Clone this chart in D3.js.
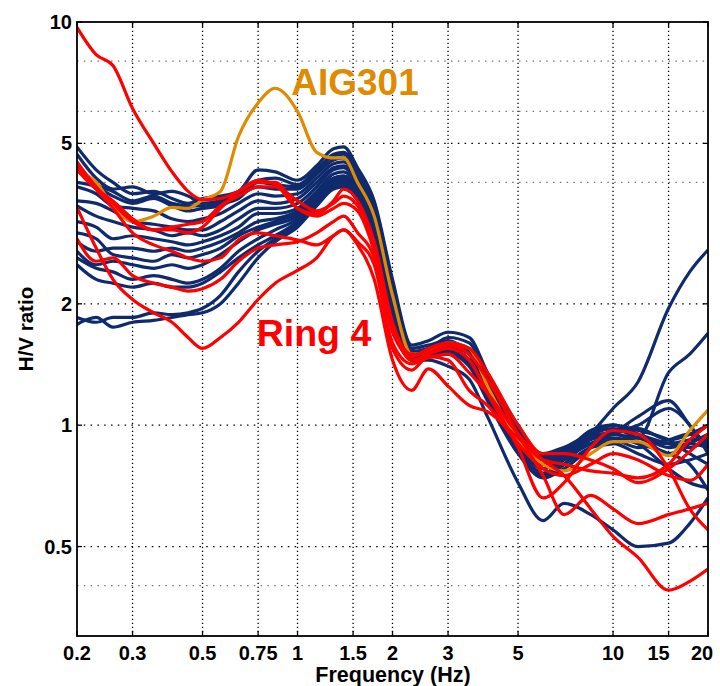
<!DOCTYPE html>
<html><head><meta charset="utf-8">
<script src="https://cdn.jsdelivr.net/npm/d3@7"></script>
<style>
html,body{margin:0;padding:0;background:#fff;}
svg{display:block;font-family:"Liberation Sans",Arial,Helvetica,sans-serif;}
</style></head>
<body><svg id="chart" width="720" height="686"></svg>
<script>
// ---- data ----
const freq = [0.2, 0.23, 0.26, 0.3, 0.35, 0.4, 0.45, 0.5, 0.57, 0.65, 0.75, 0.85, 1.0, 1.15, 1.3, 1.4, 1.55, 1.75, 2.0, 2.3, 2.6, 3.0, 3.5, 4.0, 5.0, 6.0, 7.0, 8.5, 10, 12, 15, 17.5, 20];

const navy01 = [4.9, 4.3, 4.0, 3.75, 3.8, 3.65, 3.55, 3.65, 3.7, 3.8, 4.3, 4.25, 4.05, 4.4, 4.85, 4.9, 4.35, 3.6, 2.3, 1.58, 1.62, 1.7, 1.65, 1.35, 1.0, 0.84, 0.88, 0.95, 0.98, 0.93, 0.9, 0.92, 0.93];
const navy02 = [4.7, 4.1, 3.85, 3.9, 3.75, 3.8, 3.7, 3.55, 3.6, 3.75, 4.05, 4.1, 3.95, 4.3, 4.7, 4.75, 4.3, 3.55, 2.25, 1.55, 1.58, 1.62, 1.5, 1.28, 0.95, 0.82, 0.86, 0.97, 1.0, 0.95, 0.88, 0.9, 0.88];
const navy03 = [4.3, 3.95, 3.8, 3.6, 3.7, 3.55, 3.5, 3.5, 3.55, 3.65, 4.0, 3.95, 3.9, 4.25, 4.65, 4.7, 4.3, 3.5, 2.25, 1.52, 1.55, 1.65, 1.6, 1.32, 0.97, 0.83, 0.87, 0.96, 1.0, 0.97, 0.92, 0.85, 0.8];
const navy04 = [4.0, 3.9, 3.7, 3.55, 3.65, 3.5, 3.4, 3.45, 3.5, 3.7, 3.9, 3.85, 3.85, 4.2, 4.55, 4.6, 4.2, 3.45, 2.2, 1.52, 1.55, 1.6, 1.52, 1.25, 0.92, 0.8, 0.85, 0.93, 0.96, 1.05, 1.15, 1.0, 0.88];
const navy05 = [3.9, 3.75, 3.5, 3.45, 3.4, 3.25, 3.2, 3.25, 3.35, 3.55, 3.75, 3.7, 3.75, 4.1, 4.45, 4.5, 4.15, 3.4, 2.15, 1.5, 1.52, 1.57, 1.5, 1.22, 0.9, 0.78, 0.83, 0.9, 0.93, 0.9, 0.85, 0.8, 0.69];
const navy06 = [3.6, 3.55, 3.4, 3.2, 3.15, 3.1, 3.05, 3.05, 3.2, 3.4, 3.6, 3.55, 3.65, 4.0, 4.35, 4.4, 4.05, 3.35, 2.1, 1.5, 1.5, 1.55, 1.45, 1.2, 0.88, 0.76, 0.82, 0.9, 0.92, 0.88, 0.92, 0.95, 0.9];
const navy07 = [3.5, 3.3, 3.2, 3.1, 3.05, 2.95, 3.0, 2.95, 3.05, 3.25, 3.45, 3.45, 3.55, 3.9, 4.3, 4.35, 4.0, 3.3, 2.05, 1.48, 1.5, 1.53, 1.42, 1.18, 0.87, 0.75, 0.8, 0.95, 1.1, 1.28, 1.95, 2.4, 2.72];
const navy08 = [3.2, 3.1, 2.9, 2.95, 2.9, 2.85, 2.8, 2.85, 2.95, 3.1, 3.35, 3.35, 3.45, 3.8, 4.2, 4.25, 3.95, 3.25, 2.05, 1.47, 1.48, 1.5, 1.4, 1.15, 0.85, 0.74, 0.78, 0.88, 0.95, 0.93, 1.35, 1.5, 1.69];
const navy09 = [3.0, 2.9, 2.65, 2.6, 2.55, 2.65, 2.6, 2.65, 2.75, 2.95, 3.1, 3.2, 3.35, 3.7, 4.1, 4.15, 3.85, 3.2, 2.0, 1.47, 1.5, 1.52, 1.45, 1.22, 0.9, 0.8, 0.84, 0.9, 0.95, 0.98, 0.92, 0.95, 1.0];
const navy10 = [2.85, 2.7, 2.75, 2.75, 2.7, 2.75, 2.7, 2.75, 2.85, 3.0, 3.2, 3.25, 3.4, 3.75, 4.1, 4.15, 3.9, 3.2, 2.0, 1.45, 1.5, 1.58, 1.55, 1.3, 0.95, 0.8, 0.85, 0.92, 0.95, 0.9, 0.78, 0.72, 0.7];
const navy11 = [2.7, 2.5, 2.55, 2.5, 2.45, 2.5, 2.45, 2.5, 2.65, 2.85, 3.05, 3.15, 3.3, 3.7, 4.05, 4.1, 3.85, 3.15, 2.0, 1.47, 1.55, 1.6, 1.5, 1.25, 0.95, 0.85, 0.88, 0.9, 0.9, 0.85, 0.8, 0.82, 0.85];
const navy12 = [2.6, 2.45, 2.4, 2.3, 2.35, 2.3, 2.25, 2.3, 2.45, 2.7, 2.9, 3.05, 3.25, 3.65, 4.0, 4.05, 3.8, 3.1, 1.95, 1.45, 1.45, 1.4, 1.3, 1.05, 0.72, 0.58, 0.64, 0.6, 0.55, 0.5, 0.51, 0.57, 0.66];
const navy13 = [2.5, 2.3, 2.25, 2.2, 2.25, 2.2, 2.2, 2.25, 2.4, 2.6, 2.8, 2.95, 3.2, 3.6, 3.95, 4.0, 3.75, 3.05, 1.95, 1.45, 1.5, 1.55, 1.45, 1.2, 0.9, 0.78, 0.83, 0.95, 1.0, 0.95, 0.9, 0.88, 0.93];
const navy14 = [1.85, 1.8, 1.85, 1.85, 1.9, 1.88, 1.9, 1.95, 2.1, 2.4, 2.7, 2.9, 3.15, 3.55, 3.9, 3.95, 3.7, 3.0, 1.9, 1.45, 1.48, 1.5, 1.42, 1.18, 0.88, 0.76, 0.8, 0.88, 0.9, 0.93, 0.85, 0.9, 0.95];
const navy15 = [1.78, 1.85, 1.75, 1.8, 1.82, 1.85, 1.88, 1.9, 2.0, 2.25, 2.6, 2.85, 3.1, 3.5, 3.85, 3.9, 3.65, 2.95, 1.9, 1.45, 1.5, 1.6, 1.55, 1.3, 0.95, 0.82, 0.86, 0.94, 0.96, 1.0, 1.1, 1.0, 0.85];

const aig301 = [4.29, 4.0, 3.5, 3.2, 3.3, 3.47, 3.45, 3.62, 3.8, 5.2, 6.3, 6.85, 6.0, 4.75, 4.6, 4.6, 4.0, 3.3, 2.1, 1.5, 1.52, 1.6, 1.55, 1.25, 0.92, 0.8, 0.77, 0.85, 0.91, 0.91, 0.84, 0.97, 1.09];

const ring01 = [9.7, 8.3, 7.8, 6.1, 5.0, 4.25, 3.8, 3.62, 3.65, 3.8, 4.0, 4.0, 3.45, 3.3, 3.45, 3.55, 3.4, 2.7, 1.75, 1.45, 1.5, 1.55, 1.45, 1.2, 0.88, 0.66, 0.72, 0.88, 0.97, 0.95, 0.78, 0.62, 0.55];
const ring02 = [4.5, 3.9, 3.55, 3.2, 3.05, 3.05, 3.0, 3.1, 3.45, 3.8, 4.05, 3.95, 3.45, 3.35, 3.6, 3.85, 3.6, 2.85, 1.8, 1.5, 1.52, 1.58, 1.5, 1.3, 0.95, 0.75, 0.6, 0.67, 0.62, 0.57, 0.6, 0.62, 0.64];
const ring03 = [4.3, 3.85, 3.6, 3.25, 3.05, 3.1, 3.15, 3.2, 3.5, 3.7, 3.9, 3.9, 3.6, 3.4, 3.55, 3.7, 3.5, 2.75, 1.7, 1.48, 1.55, 1.6, 1.55, 1.35, 1.0, 0.85, 0.85, 0.82, 0.78, 0.72, 0.78, 0.86, 0.95];
const ring04 = [4.4, 3.85, 3.45, 3.0, 2.8, 2.7, 2.6, 2.55, 2.6, 2.88, 3.0, 2.95, 2.88, 2.8, 2.95, 3.05, 2.85, 2.5, 1.6, 1.42, 1.47, 1.5, 1.35, 1.2, 0.95, 0.82, 0.75, 0.62, 0.53, 0.47, 0.39, 0.41, 0.44];
const ring05 = [3.47, 2.75, 2.3, 2.05, 1.9, 1.8, 1.65, 1.55, 1.65, 1.8, 2.05, 2.25, 2.42, 2.6, 2.95, 3.05, 2.8, 2.3, 1.45, 1.22, 1.38, 1.25, 1.12, 1.08, 0.93, 0.82, 0.8, 0.77, 0.76, 0.74, 0.8, 0.92, 1.0];
const ring06 = [2.9, 2.55, 2.6, 2.35, 2.25, 2.2, 2.15, 2.18, 2.3, 2.55, 2.75, 2.8, 2.85, 3.0, 3.2, 3.3, 3.0, 2.6, 1.55, 1.37, 1.48, 1.45, 1.22, 1.12, 0.9, 0.78, 0.75, 0.8, 0.85, 0.82, 0.75, 0.73, 0.8];

const navySeries = [navy01, navy02, navy03, navy04, navy05, navy06, navy07, navy08, navy09, navy10, navy11, navy12, navy13, navy14, navy15];
const ringSeries = [ring01, ring02, ring03, ring04, ring05, ring06];

const xTicks = [0.2, 0.3, 0.5, 0.75, 1, 1.5, 2, 3, 5, 10, 15, 20];
const xTickLabels = ["0.2", "0.3", "0.5", "0.75", "1", "1.5", "2", "3", "5", "10", "15", "20"];
const yTicks = [0.5, 1, 2, 5, 10];
const yTickLabels = ["0.5", "1", "2", "5", "10"];
const yMinorGrid = [0.4, 4, 6, 8];

// ---- drawing ----
const W = 720, H = 686;
const m = {left: 77, right: 12, top: 22, bottom: 50};
const svg = d3.select("#chart");
const x = d3.scaleLog().domain([0.2, 20]).range([m.left, W - m.right]);
const y = d3.scaleLog().domain([0.3, 10]).range([H - m.bottom, m.top]);
const x0 = m.left, x1 = W - m.right, y0 = H - m.bottom, y1 = m.top;

svg.append("defs").append("clipPath").attr("id", "plotclip")
  .append("rect").attr("x", x0).attr("y", y1).attr("width", x1 - x0).attr("height", y0 - y1);

// grid
const grid = svg.append("g");
grid.selectAll(".vg").data(xTicks.filter(d => d > 0.2 && d < 20)).join("line")
  .attr("x1", d => x(d)).attr("x2", d => x(d)).attr("y1", y0).attr("y2", y1)
  .attr("stroke", "#000").attr("stroke-width", 1.3).attr("stroke-dasharray", "1.3,2.7");
grid.selectAll(".hg").data(yTicks.filter(d => d < 10)).join("line")
  .attr("x1", x0).attr("x2", x1).attr("y1", d => y(d)).attr("y2", d => y(d))
  .attr("stroke", "#000").attr("stroke-width", 1.3).attr("stroke-dasharray", "1.5,5.3");
grid.selectAll(".hm").data(yMinorGrid).join("line")
  .attr("x1", x0).attr("x2", x1).attr("y1", d => y(d)).attr("y2", d => y(d))
  .attr("stroke", "#777").attr("stroke-width", 1.2).attr("stroke-dasharray", "1.5,5.3");

// curves
const line = d3.line().x(d => x(d[0])).y(d => y(d[1])).curve(d3.curveMonotoneX);
const pts = s => freq.map((f, i) => [f, s[i]]).filter(p => p[1] != null);
const plot = svg.append("g").attr("clip-path", "url(#plotclip)");
const lw = 3.2;
plot.selectAll(".navy").data(navySeries).join("path")
  .attr("d", s => line(pts(s))).attr("fill", "none")
  .attr("stroke", "#0f2b6d").attr("stroke-width", lw).attr("stroke-linejoin", "round");
plot.append("path").attr("d", line(pts(aig301))).attr("fill", "none")
  .attr("stroke", "#e08a00").attr("stroke-width", lw).attr("stroke-linejoin", "round");
plot.selectAll(".ring").data(ringSeries).join("path")
  .attr("d", s => line(pts(s))).attr("fill", "none")
  .attr("stroke", "#ff0000").attr("stroke-width", lw).attr("stroke-linejoin", "round");

// box & ticks
svg.append("rect").attr("x", x0).attr("y", y1).attr("width", x1 - x0).attr("height", y0 - y1)
  .attr("fill", "none").attr("stroke", "#000").attr("stroke-width", 1.8);
const tl = 5;
svg.selectAll(".xtb").data(xTicks).join("line")
  .attr("x1", d => x(d)).attr("x2", d => x(d)).attr("y1", y0).attr("y2", y0 - tl).attr("stroke", "#000").attr("stroke-width", 1.3);
svg.selectAll(".xtt").data(xTicks).join("line")
  .attr("x1", d => x(d)).attr("x2", d => x(d)).attr("y1", y1).attr("y2", y1 + tl).attr("stroke", "#000").attr("stroke-width", 1.3);
svg.selectAll(".ytl").data(yTicks).join("line")
  .attr("x1", x0).attr("x2", x0 + tl).attr("y1", d => y(d)).attr("y2", d => y(d)).attr("stroke", "#000").attr("stroke-width", 1.3);
svg.selectAll(".ytr").data(yTicks).join("line")
  .attr("x1", x1).attr("x2", x1 - tl).attr("y1", d => y(d)).attr("y2", d => y(d)).attr("stroke", "#000").attr("stroke-width", 1.3);

// tick labels
const xShift = {15: -10, 20: -6};
svg.selectAll(".xl").data(xTicks).join("text")
  .attr("x", d => x(d) + (xShift[d] || 0)).attr("y", 660)
  .attr("text-anchor", "middle").attr("font-size", 20).attr("font-weight", "bold")
  .text((d, i) => xTickLabels[i]);
svg.selectAll(".yl").data(yTicks).join("text")
  .attr("x", 72).attr("y", d => y(d) + 7)
  .attr("text-anchor", "end").attr("font-size", 20).attr("font-weight", "bold")
  .text((d, i) => yTickLabels[i]);

// axis titles
svg.append("text").attr("x", 393).attr("y", 682).attr("text-anchor", "middle")
  .attr("font-size", 21.5).attr("font-weight", "bold").text("Frequency (Hz)");
svg.append("text").attr("transform", "translate(33,329) rotate(-90)").attr("text-anchor", "middle")
  .attr("font-size", 20.5).attr("font-weight", "bold").text("H/V ratio");

// annotations
svg.append("text").attr("x", 355).attr("y", 95).attr("text-anchor", "middle")
  .attr("font-size", 37).attr("font-weight", "bold").attr("fill", "#e08a00").text("AIG301");
svg.append("text").attr("x", 314).attr("y", 346).attr("text-anchor", "middle")
  .attr("font-size", 37.5).attr("font-weight", "bold").attr("fill", "#ff0000").text("Ring 4");
</script></body></html>
